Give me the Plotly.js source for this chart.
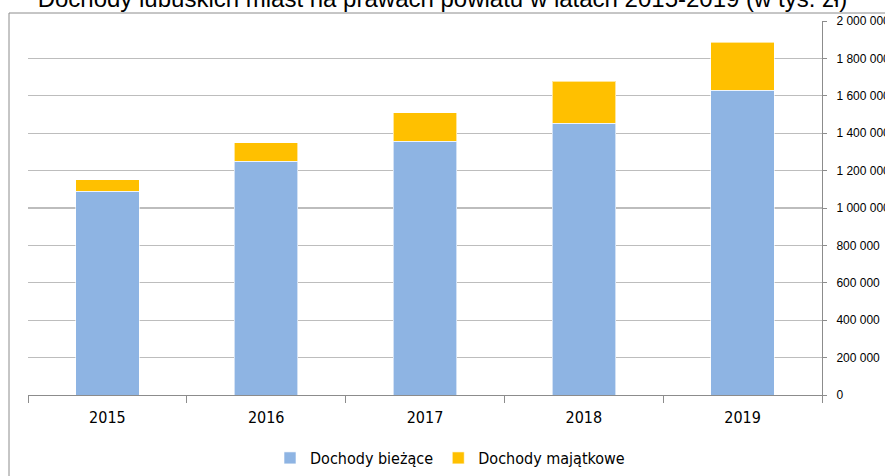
<!DOCTYPE html>
<html>
<head>
<meta charset="utf-8">
<script src="https://cdn.plot.ly/plotly-3.0.1.min.js"></script>
<style>html,body{margin:0;padding:0;background:#fff;}#chart{width:885px;height:476px;}</style>
</head>
<body>
<div id="chart"></div>
<script>
const years = ['2015', '2016', '2017', '2018', '2019'];
const biezace = [1089000, 1250000, 1357000, 1453000, 1629000];
const majatkowe = [61000, 98000, 153000, 226000, 257000];
const seriesNames = ['Dochody bieżące', 'Dochody majątkowe'];
const titleText = 'Dochody lubuskich miast na prawach powiatu w latach 2015-2019 (w tys. zł)';

const W = 885, H = 476;
const L = 28, R = 63, T = 21, B = 81;
const pw = W - L - R, ph = H - T - B;
const px = v => (v - L) / pw;
const py = v => (H - B - v) / ph;

const narrow = '"Liberation Sans Narrow", "DejaVu Sans Condensed", Arial, sans-serif';
const arial = 'Arial, "Liberation Sans", sans-serif';

const data = [
  { type: 'bar', x: years, y: biezace, name: seriesNames[0],
    marker: { color: '#8EB4E3', line: { color: 'rgba(255,255,255,0.6)', width: 1 } } },
  { type: 'bar', x: years, y: majatkowe, name: seriesNames[1],
    marker: { color: '#FFC000', line: { color: 'rgba(255,255,255,0.6)', width: 1 } } }
];

const layout = {
  width: W, height: H, autosize: false,
  margin: { l: L, r: R, t: T, b: B, pad: 0, autoexpand: false },
  paper_bgcolor: '#fff', plot_bgcolor: '#fff',
  separators: ', ',
  barmode: 'stack',
  bargap: 0.6,
  showlegend: true,
  title: { text: titleText, x: 0.5, xanchor: 'center', xref: 'container',
           y: 1 - 7 / H, yref: 'container', yanchor: 'bottom',
           font: { family: arial, size: 24, color: '#000' } },
  xaxis: {
    type: 'category', showgrid: false, showline: true, linecolor: '#8c8c8c', linewidth: 1,
    ticks: 'outside', tickson: 'boundaries', ticklen: 7, tickcolor: '#8c8c8c',
    tickfont: { family: narrow, size: 16, color: '#000' }, ticklabelstandoff: 8,
    automargin: false, fixedrange: true
  },
  yaxis: {
    side: 'right', range: [0, 2000000], dtick: 200000, tickformat: ',d',
    showgrid: true, gridcolor: '#bdbdbd', gridwidth: 1.3,
    showline: true, linecolor: '#8c8c8c', linewidth: 1,
    ticks: 'outside', ticklen: 4, tickcolor: '#8c8c8c',
    tickfont: { family: arial, size: 12, color: '#000' }, ticklabelstandoff: 7,
    zeroline: false, automargin: false, fixedrange: true
  },
  legend: {
    orientation: 'h', x: px(450), xanchor: 'center', xref: 'paper',
    y: py(458), yanchor: 'middle',
    font: { family: narrow, size: 16, color: '#000' },
    itemwidth: 30, traceorder: 'normal'
  },
  shapes: [
    { type: 'rect', xref: 'paper', yref: 'paper',
      x0: px(9), x1: px(W + 20), y0: py(H + 20), y1: py(13),
      line: { color: '#8c8c8c', width: 1 }, fillcolor: 'rgba(0,0,0,0)', layer: 'below' }
  ]
};

Plotly.newPlot('chart', data, layout, { staticPlot: true, displayModeBar: false });
</script>
</body>
</html>
